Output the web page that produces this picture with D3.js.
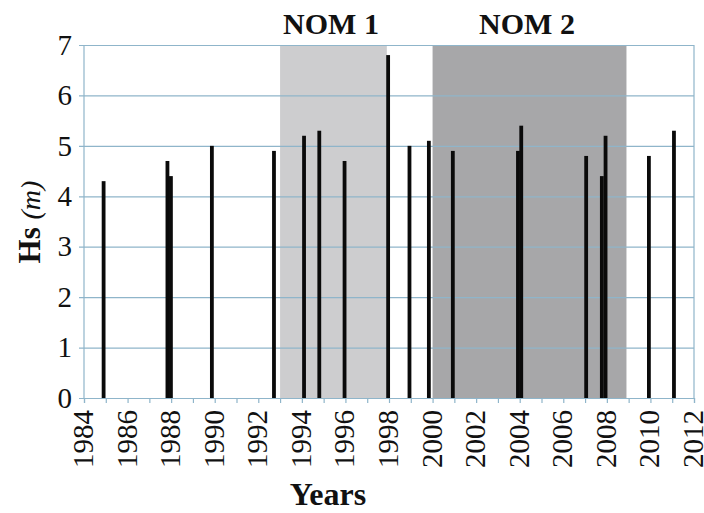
<!DOCTYPE html>
<html>
<head>
<meta charset="utf-8">
<script src="https://cdn.jsdelivr.net/npm/d3@7"></script>
<style>
  body { margin: 0; background: #fff; }
  svg text { font-family: "Liberation Serif", "Times New Roman", serif; fill: #111; }
</style>
</head>
<body>
<div id="chart"></div>
<script>
// storm events: decimal year and significant wave height (m)
var eventYears = [1984.9, 1987.83, 1987.99, 1989.87, 1992.72, 1994.1, 1994.8, 1995.96, 1997.96, 1998.94,
                  1999.83, 2000.93, 2003.92, 2004.07, 2007.05, 2007.77, 2007.94, 2009.93, 2011.08];
var eventHs = [4.3, 4.7, 4.4, 5.0, 4.9, 5.2, 5.3, 4.7, 6.8, 5.0,
               5.1, 4.9, 4.9, 5.4, 4.8, 4.4, 5.2, 4.8, 5.3];

// shaded periods
var periodNames = ["NOM 1", "NOM 2"];
var periodStart = [1993, 2000];
var periodEnd = [1997.9, 2008.9];
var periodFill = ["#cdcdcf", "#a7a7a9"];

var yTicks = [0, 1, 2, 3, 4, 5, 6, 7];
var xLabelYears = d3.range(1984, 2013, 2);

var W = 704, H = 513;
var m = {left: 84, right: 10, top: 45, bottom: 115};

var svg = d3.select("#chart").append("svg").attr("width", W).attr("height", H);

var x = d3.scaleLinear().domain([1984, 2012]).range([m.left, W - m.right]);
var y = d3.scaleLinear().domain([0, 7]).range([H - m.bottom, m.top]);

// period shading
svg.append("g").selectAll("rect").data(periodNames).enter().append("rect")
  .attr("x", function(d, i) { return x(periodStart[i]); })
  .attr("y", y(7))
  .attr("width", function(d, i) { return x(periodEnd[i]) - x(periodStart[i]); })
  .attr("height", y(0) - y(7))
  .attr("fill", function(d, i) { return periodFill[i]; });

// gridlines + y axis
var yAxis = svg.append("g").attr("transform", "translate(" + m.left + ",0)")
  .call(d3.axisLeft(y).tickValues(yTicks).tickSize(-(W - m.right - m.left)).tickPadding(12).tickFormat(d3.format("d")))
  .attr("font-family", null).attr("font-size", null);
yAxis.select(".domain").remove();
yAxis.selectAll("line").attr("stroke", "#8fb5ca").attr("stroke-width", 1.2).attr("x1", -5);
yAxis.selectAll("text").style("font-size", "29px").attr("fill", "#111");

// plot border (left and right)
svg.append("line").attr("x1", m.left).attr("x2", m.left).attr("y1", y(7)).attr("y2", y(0))
  .attr("stroke", "#8fb5ca").attr("stroke-width", 1.2);
svg.append("line").attr("x1", W - m.right).attr("x2", W - m.right).attr("y1", y(7)).attr("y2", y(0))
  .attr("stroke", "#8fb5ca").attr("stroke-width", 1.2);

// bars
svg.append("g").selectAll("rect").data(eventHs).enter().append("rect")
  .attr("x", function(d, i) { return x(eventYears[i]) - 1.9; })
  .attr("y", function(d) { return y(d); })
  .attr("width", 3.8)
  .attr("height", function(d) { return y(0) - y(d); })
  .attr("fill", "#0a0a0a");

// x axis with yearly ticks
var xAxis = svg.append("g").attr("transform", "translate(0," + y(0) + ")")
  .call(d3.axisBottom(x).tickValues(d3.range(1984, 2013, 1)).tickSize(5).tickFormat(""));
xAxis.select(".domain").attr("stroke", "#8fb5ca").attr("stroke-width", 1.2);
xAxis.selectAll("line").attr("stroke", "#8fb5ca").attr("stroke-width", 1.2);

svg.append("g").selectAll("text").data(xLabelYears).enter().append("text")
  .attr("transform", function(d) { return "translate(" + (x(d) + 9) + "," + (y(0) + 12) + ") rotate(-90)"; })
  .attr("text-anchor", "end")
  .style("font-size", "29px")
  .text(function(d) { return d; });

// titles
svg.append("text").attr("x", 328).attr("y", 505).attr("text-anchor", "middle")
  .style("font-size", "32px").style("font-weight", "bold").text("Years");

var yl = svg.append("text").attr("transform", "translate(40,222) rotate(-90)").attr("text-anchor", "middle");
yl.append("tspan").style("font-size", "31px").style("font-weight", "bold").text("Hs ");
yl.append("tspan").style("font-size", "28px").style("font-style", "italic").text("(m)");

svg.append("g").selectAll("text").data(periodNames).enter().append("text")
  .attr("x", function(d, i) { return i === 0 ? 331 : 527; })
  .attr("y", 34)
  .attr("text-anchor", "middle")
  .style("font-size", "30px").style("font-weight", "bold")
  .text(function(d) { return d; });
</script>
</body>
</html>
